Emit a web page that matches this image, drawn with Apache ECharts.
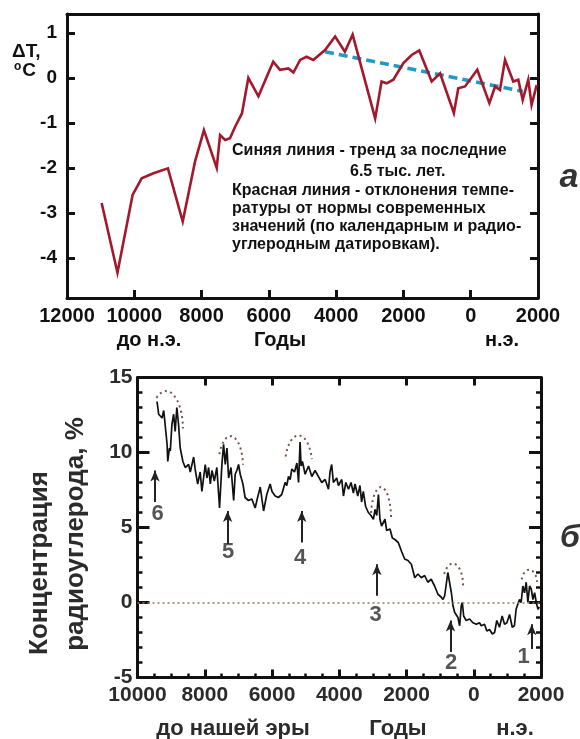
<!DOCTYPE html>
<html>
<head>
<meta charset="utf-8">
<script src="https://cdn.jsdelivr.net/npm/echarts@6/dist/echarts.min.js"></script>
<style>
  html, body { margin: 0; padding: 0; background: #ffffff; }
  #chart { width: 580px; height: 739px; }
</style>
</head>
<body>
<div id="chart"></div>
<script>
// Panel (а): temperature anomaly, years (negative = BC)
const tempYears = [-10970, -10500, -10050, -9780, -9430, -9000, -8560, -8195, -7930, -7550,
  -7450, -7300, -7155, -7000, -6800, -6610, -6310, -6060, -5870, -5670,
  -5420, -5370, -5270, -5070, -4880, -4680, -4330, -4030, -3740, -3510,
  -2840, -2650, -2500, -2300, -2000, -1755, -1530, -1160, -910, -500,
  -370, -170, 195, 555, 725, 870, 1020, 1265, 1415, 1545,
  1710, 1810, 1960];
const tempValues = [-2.78, -4.33, -2.6, -2.23, -2.12, -2.01, -3.19, -1.86, -1.16, -2.0,
  -1.27, -1.38, -1.34, -1.08, -0.79, 0.0, -0.41, 0.03, 0.36, 0.18,
  0.21, 0.19, 0.12, 0.4, 0.47, 0.4, 0.62, 0.92, 0.58, 0.96,
  -0.9, -0.08, -0.12, -0.04, 0.33, 0.51, 0.61, -0.08, 0.1, -0.78,
  -0.23, -0.19, 0.18, -0.56, -0.19, -0.27, 0.4, -0.08, -0.04, -0.49,
  -0.04, -0.6, -0.16];

// Linear trend over the last 6.5 thousand years
const trendYears = [-4330, 1550];
const trendValues = [0.58, -0.3];

const tempTickValues = [-4, -3, -2, -1, 0, 1];

// Panel (б): radiocarbon concentration, %
const c14Years = [-9420, -9370, -9270, -9220, -9120, -9100, -9050, -9025, -8975, -8925,
  -8880, -8830, -8780, -8730, -8650, -8580, -8480, -8430, -8330, -8280,
  -8210, -8135, -8085, -7985, -7935, -7885, -7835, -7785, -7715, -7640,
  -7560, -7490, -7440, -7390, -7340, -7290, -7220, -7140, -7095, -7045,
  -6995, -6945, -6865, -6800, -6700, -6600, -6500, -6450, -6350, -6250,
  -6155, -6055, -6000, -5905, -5810, -5710, -5610, -5560, -5510, -5460,
  -5410, -5330, -5260, -5210, -5165, -5135, -5095, -5015, -4915, -4815,
  -4720, -4620, -4520, -4420, -4320, -4275, -4225, -4175, -4075, -4025,
  -3925, -3875, -3805, -3725, -3650, -3580, -3530, -3450, -3385, -3335,
  -3285, -3215, -3135, -3055, -2985, -2935, -2885, -2835, -2790, -2740,
  -2640, -2590, -2490, -2420, -2345, -2245, -2145, -2055, -1955, -1855,
  -1755, -1660, -1560, -1460, -1365, -1265, -1165, -1065, -965, -915,
  -865, -815, -770, -720, -665, -620, -570, -520, -470, -420,
  -370, -340, -300, -225, -125, -25, 75, 170, 225, 320,
  390, 470, 550, 620, 685, 765, 845, 915, 985, 1065,
  1145, 1210, 1260, 1310, 1360, 1410, 1460, 1510, 1560, 1610,
  1660, 1710, 1760, 1810, 1860, 1910, 1950];
const c14Values = [13.4, 12.55, 12.3, 12.8, 10.55, 9.4, 10.3, 10.1, 11.9, 12.55,
  11.4, 13.0, 11.9, 10.3, 9.4, 9.0, 9.2, 8.7, 9.7, 8.8,
  7.9, 8.7, 7.4, 9.2, 8.3, 9.0, 7.9, 8.8, 8.1, 9.0,
  6.3, 9.2, 10.55, 9.2, 10.3, 8.3, 9.0, 6.8, 8.55, 8.8,
  9.2, 8.55, 7.9, 7.0, 6.8, 6.9, 6.3, 6.8, 7.7, 6.1,
  7.2, 7.9, 7.4, 7.1, 7.0, 7.2, 8.0, 7.8, 8.4, 8.2,
  8.9, 8.7, 9.3, 8.0, 10.7, 9.1, 9.4, 8.55, 9.1, 8.4,
  8.8, 8.4, 8.0, 8.2, 7.55, 8.7, 9.2, 8.0, 8.3, 7.8,
  8.2, 7.1, 8.0, 7.55, 8.0, 7.3, 7.9, 7.1, 7.8, 6.7,
  7.4, 6.4, 6.0, 5.8, 5.55, 6.2, 5.8, 7.2, 5.55, 5.1,
  5.55, 4.8, 4.9, 4.3, 4.2, 4.0, 3.4, 2.9, 2.8, 2.55,
  1.65, 1.9, 1.65, 1.8, 1.35, 1.55, 1.1, 0.55, 0.35, 0.2,
  0.45, 0.35, 2.0, 1.35, 0.65, -0.2, -0.65, -0.55, -1.0, -1.55,
  -0.2, 0.0, -0.9, -1.2, -1.1, -1.35, -1.45, -1.35, -1.55, -1.45,
  -1.9, -1.8, -2.1, -2.0, -1.2, -1.65, -0.9, -1.45, -1.35, -0.8,
  -1.65, -1.55, -0.45, -0.55, 0.2, 0.0, 1.1, 0.65, 1.35, 0.0,
  1.1, 0.9, 0.2, 0.65, 0.0, -0.45, -0.3];

// Numbered peaks: label, label position, arrow x and arrow from/to values
const peakLabels = ['6', '5', '4', '3', '2', '1'];
const peakLabelYears = [-9405, -7305, -5165, -2915, -670, 1480];
const peakLabelValues = [5.9, 3.35, 2.95, -0.8, -4.0, -3.65];
const arrowYears = [-9480, -7320, -5115, -2880, -690, 1725];
const arrowFrom = [6.7, 3.9, 4.0, 0.45, -3.3, -3.1];
const arrowTo = [8.8, 6.1, 6.1, 2.55, -1.2, -1.45];

// Dotted caps over the peaks: centre year, centre value, half-width (years), half-height, start/end angle (deg)
const capCx = [-9150, -7230, -5210, -2760, -620, 1650];
const capCy = [11.6, 9.0, 9.0, 5.6, 1.2, 1.2];
const capRx = [500, 370, 410, 300, 300, 240];
const capRy = [2.5, 2.1, 2.15, 2.1, 1.4, 1.0];
const capStart = [125, 155, 160, 170, 150, 160];
const capEnd = [0, 5, 15, 0, -5, 10];

const FONT = '"Liberation Sans", Arial, Helvetica, sans-serif';

function zip(xs, ys) { return xs.map((x, i) => [x, ys[i]]); }

function capPoints() {
  const pts = [];
  for (let k = 0; k < capCx.length; k++) {
    const steps = 24;
    for (let s = 0; s <= steps; s++) {
      const a = (capStart[k] + (capEnd[k] - capStart[k]) * s / steps) * Math.PI / 180;
      pts.push([capCx[k] + capRx[k] * Math.cos(a), capCy[k] + capRy[k] * Math.sin(a)]);
    }
    pts.push([null, null]);
  }
  return pts;
}

const arrowLines = arrowYears.map((x, i) => [
  { coord: [x, arrowFrom[i]], symbol: 'none' },
  { coord: [x, arrowTo[i]], symbol: 'arrow', symbolSize: [7, 11] }
]);

function boxAxis(extra) {
  return Object.assign({
    type: 'value',
    splitLine: { show: false },
    axisLine: { show: true, onZero: false, lineStyle: { color: '#111', width: 3 } }
  }, extra);
}

const topLabel = { fontFamily: FONT, fontWeight: 'bold', color: '#111' };
const botLabel = { fontFamily: FONT, fontWeight: 'bold', color: '#2b2b2b' };

function txt(text, x, y, size, opts) {
  opts = opts || {};
  return {
    type: 'text', x: x, y: y, rotation: opts.rotation || 0, silent: true,
    style: {
      text: text,
      fill: opts.fill || '#111',
      font: (opts.italic ? 'italic ' : '') + 'bold ' + size + 'px ' + FONT,
      align: opts.align || 'center', textAlign: opts.align || 'center',
      verticalAlign: 'middle', textVerticalAlign: 'middle',
      rich: opts.rich
    }
  };
}

const option = {
  animation: false,
  backgroundColor: '#ffffff',
  grid: [
    { left: 67, top: 14, width: 471, height: 284 },
    { left: 137.5, top: 377.5, width: 403.5, height: 300 }
  ],
  xAxis: [
    boxAxis({ gridIndex: 0, position: 'bottom', min: -12000, max: 2000, interval: 2000,
      axisTick: { show: true, inside: true, length: 8, lineStyle: { color: '#111', width: 3 } },
      axisLabel: Object.assign({ fontSize: 20, margin: 8, formatter: v => String(Math.abs(v)) }, topLabel) }),
    boxAxis({ gridIndex: 0, position: 'top', min: -12000, max: 2000, interval: 2000,
      axisTick: { show: false }, axisLabel: { show: false } }),
    boxAxis({ gridIndex: 1, position: 'bottom', min: -10000, max: 2000, interval: 2000,
      axisTick: { show: true, inside: true, length: 8, lineStyle: { color: '#111', width: 3 } },
      minorTick: { show: true, splitNumber: 4, length: 4, lineStyle: { color: '#111', width: 2.5 } },
      axisLabel: Object.assign({ fontSize: 21, margin: 7, formatter: v => String(Math.abs(v)) }, botLabel) }),
    boxAxis({ gridIndex: 1, position: 'top', min: -10000, max: 2000, interval: 2000,
      axisTick: { show: true, inside: true, length: 8, lineStyle: { color: '#111', width: 3 } },
      axisLabel: { show: false } })
  ],
  yAxis: [
    boxAxis({ gridIndex: 0, position: 'left', min: -4.89, max: 1.42,
      axisTick: { show: true, inside: true, length: 8, customValues: tempTickValues, lineStyle: { color: '#111', width: 3 } },
      axisLabel: Object.assign({ fontSize: 19, margin: 10, customValues: tempTickValues }, topLabel) }),
    boxAxis({ gridIndex: 0, position: 'right', min: -4.89, max: 1.42,
      axisTick: { show: true, inside: true, length: 8, customValues: tempTickValues, lineStyle: { color: '#111', width: 3 } },
      axisLabel: { show: false } }),
    boxAxis({ gridIndex: 1, position: 'left', min: -5, max: 15, interval: 5,
      axisTick: { show: true, inside: true, length: 12, lineStyle: { color: '#111', width: 3 } },
      minorTick: { show: true, splitNumber: 5, length: 5, lineStyle: { color: '#111', width: 2.5 } },
      axisLabel: Object.assign({ fontSize: 21, margin: 5 }, botLabel) }),
    boxAxis({ gridIndex: 1, position: 'right', min: -5, max: 15, interval: 5,
      axisTick: { show: true, inside: true, length: 12, lineStyle: { color: '#111', width: 3 } },
      minorTick: { show: true, splitNumber: 5, length: 5, lineStyle: { color: '#111', width: 2.5 } },
      axisLabel: { show: false } })
  ],
  series: [
    {
      name: 'trend', type: 'line', xAxisIndex: 0, yAxisIndex: 0, z: 2,
      data: zip(trendYears, trendValues), symbol: 'none', silent: true,
      lineStyle: { color: '#1e9bc6', width: 3.5, type: [9, 5] }
    },
    {
      name: 'deltaT', type: 'line', xAxisIndex: 0, yAxisIndex: 0, z: 3,
      data: zip(tempYears, tempValues), symbol: 'none', silent: true,
      lineStyle: { color: '#a3192b', width: 2.6, join: 'miter' }
    },
    {
      name: 'caps', type: 'line', xAxisIndex: 2, yAxisIndex: 2, z: 2,
      data: capPoints(), symbol: 'none', silent: true, connectNulls: false,
      lineStyle: { color: '#7d5548', width: 2, type: [2, 3.5] }
    },
    {
      name: 'c14', type: 'line', xAxisIndex: 2, yAxisIndex: 2, z: 3,
      data: zip(c14Years, c14Values), symbol: 'none', silent: true,
      lineStyle: { color: '#111', width: 1.7 },
      markLine: {
        silent: true, animation: false, symbol: ['none', 'none'],
        label: { show: false },
        lineStyle: { color: '#222', width: 2, type: 'solid' },
        data: [
          { yAxis: 0, lineStyle: { color: '#a07264', width: 1.6, type: [2, 3] } }
        ].concat(arrowLines)
      }
    },
    {
      name: 'peaks', type: 'scatter', xAxisIndex: 2, yAxisIndex: 2, z: 4,
      symbolSize: 0, silent: true,
      data: peakLabels.map((t, i) => ({ name: t, value: [peakLabelYears[i], peakLabelValues[i]] })),
      label: { show: true, position: 'inside', formatter: '{b}', fontFamily: FONT, fontWeight: 'bold', fontSize: 22, color: '#2b2b2b' }
    }
  ],
  graphic: [
    // panel (а) axis titles
    txt('\u0394T,', 12, 52, 19, { align: 'left' }),
    txt('{s|o}C', 14, 71, 19, { align: 'left', rich: { s: { font: 'bold 12px ' + FONT, fill: '#111', verticalAlign: 'top', padding: [0, 1, 8, 0] } } }),
    txt('до н.э.', 149, 340, 20),
    txt('Годы', 280, 340, 20),
    txt('н.э.', 502, 340, 20),
    // panel (а) legend text
    txt('Синяя линия - тренд за последние', 232, 151, 16, { align: 'left' }),
    txt('6.5 тыс. лет.', 350, 172, 16, { align: 'left' }),
    txt('Красная линия - отклонения темпе-', 232, 191, 16, { align: 'left' }),
    txt('ратуры от нормы современных', 232, 209, 16, { align: 'left' }),
    txt('значений (по календарным и радио-', 232, 227, 16, { align: 'left' }),
    txt('углеродным датировкам).', 232, 245, 16, { align: 'left' }),
    txt('а', 569, 178, 34, { italic: true, fill: '#333' }),
    // panel (б) axis titles
    txt('Концентрация', 40, 563, 26, { rotation: Math.PI / 2, fill: '#2b2b2b' }),
    txt('радиоуглерода, %', 76, 534, 26, { rotation: Math.PI / 2, fill: '#2b2b2b' }),
    txt('до нашей эры', 233, 729, 22, { fill: '#2b2b2b' }),
    txt('Годы', 398, 729, 22, { fill: '#2b2b2b' }),
    txt('н.э.', 515, 729, 22, { fill: '#2b2b2b' }),
    txt('б', 570, 538, 32, { italic: true, fill: '#333' })
  ]
};

const chart = echarts.init(document.getElementById('chart'), null, { renderer: 'canvas' });
chart.setOption(option);
</script>
</body>
</html>
